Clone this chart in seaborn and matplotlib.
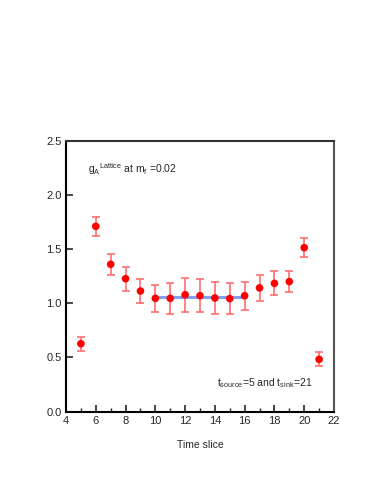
import numpy as np
import pandas as pd
import matplotlib
matplotlib.use("Agg")
import matplotlib.pyplot as plt
import seaborn as sns
from matplotlib.ticker import MultipleLocator

# time slices and g_A values
time_slice = [5, 6, 7, 8, 9, 10, 11, 12, 13, 14, 15, 16, 17, 18, 19, 20, 21]
g_a = [0.627, 1.71, 1.36, 1.227, 1.113, 1.046, 1.046, 1.079, 1.07, 1.049,
       1.043, 1.07, 1.142, 1.184, 1.20, 1.513, 0.483]
g_a_err = [0.065, 0.085, 0.097, 0.11, 0.11, 0.125, 0.145, 0.155, 0.15, 0.145,
           0.14, 0.13, 0.12, 0.11, 0.095, 0.087, 0.065]

# plateau fit
fit_t = [10, 16]
fit_val = [1.061, 1.061]

df = pd.DataFrame({"t": time_slice, "g": g_a, "err": g_a_err})
fit_df = pd.DataFrame({"t": fit_t, "g": fit_val})

sns.set_style("ticks")
plt.rcParams["font.family"] = ["Liberation Sans", "DejaVu Sans"]
plt.rcParams["mathtext.fontset"] = "custom"
plt.rcParams["mathtext.rm"] = "Liberation Sans"

fig = plt.figure(figsize=(3.82, 4.94), dpi=100)
ax = fig.add_axes([0.1728, 0.1666, 0.7015, 0.5486])

sns.lineplot(data=fit_df, x="t", y="g", ax=ax, color="#6f8ff0", lw=2.2,
             alpha=0.85, zorder=2)
ax.errorbar(df["t"], df["g"], yerr=df["err"], fmt="none", ecolor="#ff6e6e",
            elinewidth=1.2, capsize=2.6, capthick=1.2, zorder=3)
sns.scatterplot(data=df, x="t", y="g", ax=ax, color="#ff0000", s=30,
                edgecolor="none", zorder=4)

ax.set_xlim(4, 22)
ax.set_ylim(0, 2.5)
ax.xaxis.set_major_locator(MultipleLocator(2))
ax.xaxis.set_minor_locator(MultipleLocator(1))
ax.yaxis.set_major_locator(MultipleLocator(0.5))
ax.set_yticklabels([f"{v:.1f}" for v in ax.get_yticks()])
ax.tick_params(which="major", direction="in", length=5, width=1.2,
               labelsize=8, top=False, right=False, pad=3)
ax.tick_params(which="minor", direction="in", length=3, width=1.0,
               top=False, right=False)

for side in ["left", "bottom"]:
    ax.spines[side].set_linewidth(1.5)
    ax.spines[side].set_color("black")
ax.spines["top"].set_linewidth(1.5)
ax.spines["top"].set_color("#333333")
ax.spines["right"].set_linewidth(1.5)
ax.spines["right"].set_color("#555555")

ax.set_xlabel("Time slice", fontsize=7.5, labelpad=10)
ax.set_ylabel("")

ax.text(0.083, 0.88, r"g$_\mathrm{A}$$^\mathrm{Lattice}$ at m$_\mathrm{f}$ =0.02",
        transform=ax.transAxes, fontsize=7.5)
ax.text(0.565, 0.095, r"t$_\mathrm{source}$=5 and t$_\mathrm{sink}$=21",
        transform=ax.transAxes, fontsize=7.5)

fig.savefig("out.png", dpi=100)
